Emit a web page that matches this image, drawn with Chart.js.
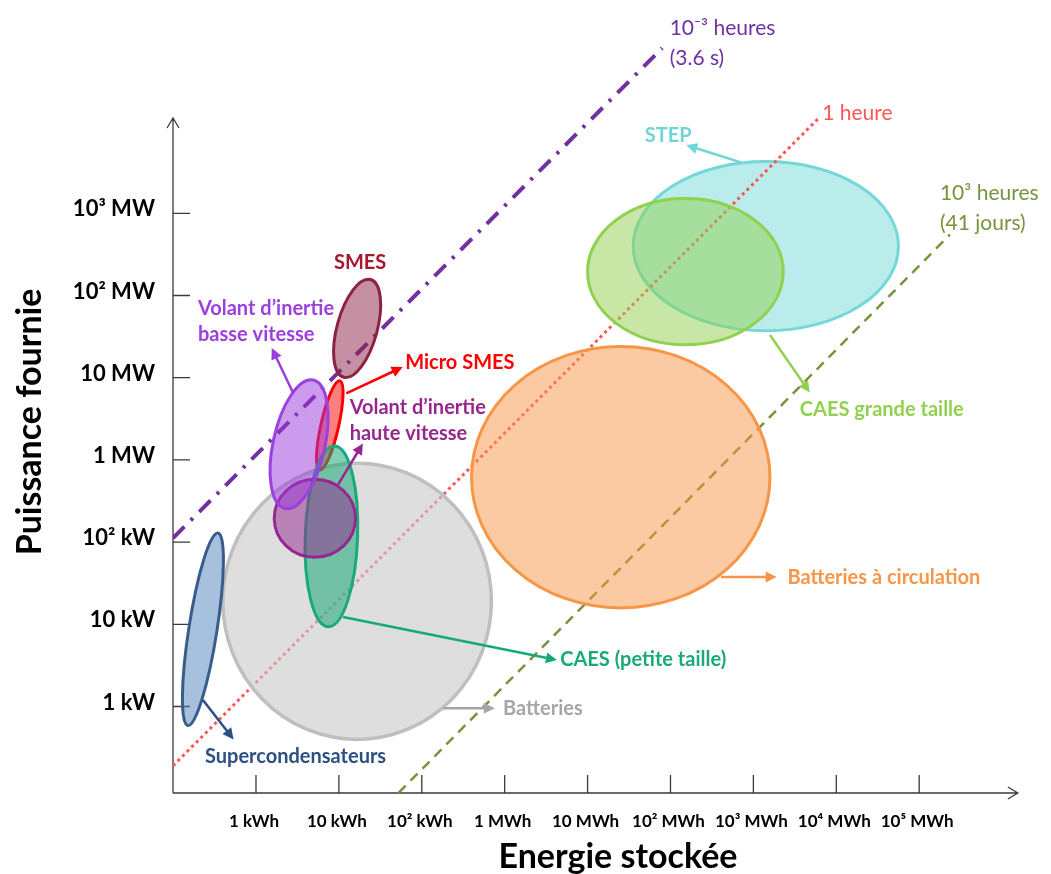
<!DOCTYPE html>
<html>
<head>
<meta charset="utf-8">
<script src="https://cdn.jsdelivr.net/npm/chart.js@4.4.1/dist/chart.umd.min.js"></script>
<style>
  html, body { margin: 0; padding: 0; background: #fff; }
</style>
</head>
<body>
<canvas id="ragone" width="1051" height="874"></canvas>
<script>
// both axes are decades: x = log10(energie en kWh), y = log10(puissance en kW)
const energyTicks = [0, 1, 2, 3, 4, 5, 6, 7, 8];
const energyLabels = ["1 kWh", "10 kWh", "10² kWh", "1 MWh", "10 MWh", "10² MWh", "10³ MWh", "10⁴ MWh", "10⁵ MWh"];
const powerTicks = [0, 1, 2, 3, 4, 5, 6];
const powerLabels = ["1 kW", "10 kW", "10² kW", "1 MW", "10 MW", "10² MW", "10³ MW"];

// technologies, drawn bottom to top: centre, half axes (decades), tilt of axis A (deg)
const techNames = ["STEP", "CAES grande taille", "Batteries à circulation", "Batteries", "Micro SMES",
  "CAES (petite taille)", "Volant haute vitesse", "Volant basse vitesse", "SMES", "Supercondensateurs"];
const techEnergy = [6.15, 5.18, 4.40, 1.22, 0.89, 0.91, 0.71, 0.52, 1.22, -0.64];
const techPower = [5.60, 5.29, 2.79, 1.28, 3.42, 2.07, 2.29, 3.19, 4.60, 0.94];
const techAxisA = [1.60, 1.18, 1.80, 1.62, 0.555, 1.10, 0.49, 0.80, 0.616, 1.186];
const techAxisB = [1.03, 0.89, 1.59, 1.68, 0.107, 0.316, 0.474, 0.313, 0.242, 0.17];
const techTilt = [0, 0, 0, 0, 77.4, 88, 0, 77.7, 74.8, 81.2];
const techStroke = ["#74d8d8", "#92d050", "#f79646", "#bfbfbf", "#ff0000", "#1aaa7a", "#96278f", "#9c40e0", "#8c2342", "#385d8a"];
const techFill = ["rgba(75,205,205,0.38)", "rgba(146,208,80,0.5)", "rgba(247,150,70,0.5)", "rgba(200,200,200,0.6)",
  "rgba(255,0,0,0.5)", "rgba(26,170,122,0.55)", "rgba(150,39,143,0.5)", "rgba(155,55,220,0.5)",
  "rgba(140,35,70,0.5)", "rgba(79,129,189,0.5)"];
const techUnderLines = ["STEP"];

// labels of the technologies and their arrows
const noteText = [["STEP"], ["CAES grande taille"], ["Batteries à circulation"], ["Batteries"], ["Micro SMES"],
  ["CAES (petite taille)"], ["Volant d’inertie", "haute vitesse"], ["Volant d’inertie", "basse vitesse"], ["SMES"], ["Supercondensateurs"]];
const noteX = [4.69, 6.56, 6.41, 2.98, 1.80, 3.67, 1.13, -0.70, 0.94, -0.615];
const noteY = [6.95, 3.61, 1.575, -0.02, 4.19, 0.566, 3.635, 4.844, 5.40, -0.614];
const noteColor = ["#6fd6d6", "#92d050", "#f79646", "#a6a6a6", "#ff0000", "#17a97a", "#97278e", "#9b3fdd", "#a8172e", "#2a5086"];
const arrowFrom = [[5.85, 6.62], [6.20, 4.52], [5.61, 1.575], [2.26, -0.02], [1.09, 3.81], [1.05, 1.09], [0.99, 2.70], [0.45, 3.81], null, [-0.64, 0.08]];
const arrowTo = [[5.19, 6.83], [6.68, 3.82], [6.28, 1.575], [2.88, -0.02], [1.77, 4.13], [3.63, 0.565], [1.29, 3.20], [0.19, 4.36], null, [-0.27, -0.40]];

// constant duration lines
const durationText = [["10⁻³ heures", "(3.6 s)"], ["1 heure"], ["10³ heures", "(41 jours)"]];
const durationStart = [[-1.00, 2.05], [-1.00, -0.72], [1.72, -1.05]];
const durationEnd = [[4.90, 8.01], [6.80, 7.17], [8.37, 5.74]];
const durationLabelX = [4.99, 6.83, 8.25];
const durationLabelY = [8.254, 7.22, 6.247];
const durationColor = ["#7030a0", "#ff5555", "#77933c"];
const durationDash = [[16, 9, 3, 9], [3, 3.5], [10, 7]];
const durationWidth = [4, 3, 2.5];

const axisEnd = { x: 9.19, y: 7.16 };

function px(chart, x, y) {
  return [chart.scales.x.getPixelForValue(x), chart.scales.y.getPixelForValue(y)];
}

function drawTech(chart, under) {
  const ctx = chart.ctx;
  const kx = chart.scales.x.getPixelForValue(1) - chart.scales.x.getPixelForValue(0);
  const ky = chart.scales.y.getPixelForValue(0) - chart.scales.y.getPixelForValue(1);
  for (let i = 0; i < techNames.length; i++) {
    if (techUnderLines.includes(techNames[i]) !== under) continue;
    const c = px(chart, techEnergy[i], techPower[i]);
    ctx.save();
    ctx.translate(c[0], c[1]);
    ctx.scale(kx, -ky);
    ctx.rotate(techTilt[i] * Math.PI / 180);
    ctx.beginPath();
    ctx.ellipse(0, 0, techAxisA[i], techAxisB[i], 0, 0, Math.PI * 2);
    ctx.restore();
    ctx.save();
    ctx.fillStyle = techFill[i];
    ctx.fill();
    ctx.lineWidth = techNames[i] === "Batteries" ? 3.5 : 3;
    ctx.strokeStyle = techStroke[i];
    ctx.stroke();
    ctx.restore();
  }
}

function drawArrow(ctx, a, b, color) {
  const ang = Math.atan2(b[1] - a[1], b[0] - a[0]);
  const head = 11;
  ctx.save();
  ctx.strokeStyle = color;
  ctx.fillStyle = color;
  ctx.lineWidth = 2.5;
  ctx.beginPath();
  ctx.moveTo(a[0], a[1]);
  ctx.lineTo(b[0] - Math.cos(ang) * head * 0.8, b[1] - Math.sin(ang) * head * 0.8);
  ctx.stroke();
  ctx.beginPath();
  ctx.moveTo(b[0], b[1]);
  ctx.lineTo(b[0] - head * Math.cos(ang) + 5.5 * Math.sin(ang), b[1] - head * Math.sin(ang) - 5.5 * Math.cos(ang));
  ctx.lineTo(b[0] - head * Math.cos(ang) - 5.5 * Math.sin(ang), b[1] - head * Math.sin(ang) + 5.5 * Math.cos(ang));
  ctx.closePath();
  ctx.fill();
  ctx.restore();
}

function drawAxes(chart) {
  const ctx = chart.ctx;
  const xs = chart.scales.x, ys = chart.scales.y;
  const x0 = xs.left, y0 = ys.bottom;
  const xEnd = xs.getPixelForValue(axisEnd.x), yEnd = ys.getPixelForValue(axisEnd.y);
  ctx.save();
  ctx.strokeStyle = "#3a3a3a";
  ctx.lineWidth = 1.3;
  ctx.beginPath();
  ctx.moveTo(x0, y0); ctx.lineTo(xEnd, y0);
  ctx.moveTo(xEnd - 10, y0 - 6); ctx.lineTo(xEnd, y0); ctx.lineTo(xEnd - 10, y0 + 6);
  ctx.moveTo(x0, y0); ctx.lineTo(x0, yEnd);
  ctx.moveTo(x0 - 6, yEnd + 10); ctx.lineTo(x0, yEnd); ctx.lineTo(x0 + 6, yEnd + 10);
  energyTicks.forEach(function (v) {
    const p = xs.getPixelForValue(v);
    ctx.moveTo(p, y0); ctx.lineTo(p, y0 - 18);
  });
  powerTicks.forEach(function (v) {
    const p = ys.getPixelForValue(v);
    ctx.moveTo(x0, p); ctx.lineTo(x0 + 17, p);
  });
  ctx.stroke();

  ctx.fillStyle = "#000";
  ctx.font = "bold 34px Lato";
  ctx.textAlign = "center";
  ctx.textBaseline = "middle";
  ctx.fillText("Energie stockée", 618, 857);
  ctx.translate(30, 422);
  ctx.rotate(-Math.PI / 2);
  ctx.fillText("Puissance fournie", 0, 0);
  ctx.restore();
}

function drawNotes(chart) {
  const ctx = chart.ctx;
  ctx.save();
  ctx.textAlign = "left";
  ctx.textBaseline = "middle";
  for (let i = 0; i < noteText.length; i++) {
    if (arrowFrom[i]) {
      drawArrow(ctx, px(chart, arrowFrom[i][0], arrowFrom[i][1]), px(chart, arrowTo[i][0], arrowTo[i][1]), noteColor[i]);
    }
    const p = px(chart, noteX[i], noteY[i]);
    ctx.font = "bold 20px Lato";
    ctx.fillStyle = noteColor[i];
    noteText[i].forEach(function (t, k) { ctx.fillText(t, p[0], p[1] + k * 26); });
  }
  for (let i = 0; i < durationText.length; i++) {
    const p = px(chart, durationLabelX[i], durationLabelY[i]);
    ctx.font = "21px Lato";
    ctx.fillStyle = durationColor[i];
    durationText[i].forEach(function (t, k) { ctx.fillText(t, p[0], p[1] + k * 30); });
  }
  ctx.restore();
}

const ragonePlugin = {
  id: "ragone",
  beforeDatasetsDraw(chart) {
    drawAxes(chart);
    drawTech(chart, true);
  },
  afterDatasetsDraw(chart) {
    drawTech(chart, false);
    drawNotes(chart);
  },
};

const durationSets = durationText.map(function (t, i) {
  return {
    label: t.join(" "),
    data: [
      { x: durationStart[i][0], y: durationStart[i][1] },
      { x: durationEnd[i][0], y: durationEnd[i][1] },
    ],
    showLine: true,
    borderColor: durationColor[i],
    borderWidth: durationWidth[i],
    borderDash: durationDash[i],
    pointRadius: 0,
  };
});

new Chart(document.getElementById("ragone"), {
  type: "scatter",
  data: { datasets: durationSets },
  plugins: [ragonePlugin],
  options: {
    responsive: false,
    animation: false,
    devicePixelRatio: 1,
    events: [],
    layout: { padding: 0, autoPadding: false },
    plugins: { legend: { display: false }, tooltip: { enabled: false } },
    scales: {
      x: {
        type: "linear",
        min: -1.001,
        max: 9.59,
        grid: { display: false, drawTicks: false },
        border: { display: false },
        afterBuildTicks: function (scale) {
          scale.ticks = energyTicks.map(function (v) { return { value: v }; });
        },
        afterFit: function (scale) {
          scale.height = 81;
          scale.paddingLeft = 0;
          scale.paddingRight = 0;
        },
        ticks: {
          maxRotation: 0,
          autoSkip: false,
          padding: 18,
          labelOffset: -2,
          color: "#000",
          font: { family: "Lato", size: 17, weight: "bold" },
          callback: function (v) { return energyLabels[energyTicks.indexOf(v)]; },
        },
      },
      y: {
        type: "linear",
        min: -1.052,
        max: 8.595,
        grid: { display: false, drawTicks: false },
        border: { display: false },
        afterBuildTicks: function (scale) {
          scale.ticks = powerTicks.map(function (v) { return { value: v }; });
        },
        afterFit: function (scale) {
          scale.width = 173;
          scale.paddingTop = 0;
          scale.paddingBottom = 0;
        },
        ticks: {
          autoSkip: false,
          padding: 18,
          labelOffset: -4,
          color: "#000",
          font: { family: "Lato", size: 22, weight: "bold" },
          callback: function (v) { return powerLabels[powerTicks.indexOf(v)]; },
        },
      },
    },
  },
});
</script>
</body>
</html>
